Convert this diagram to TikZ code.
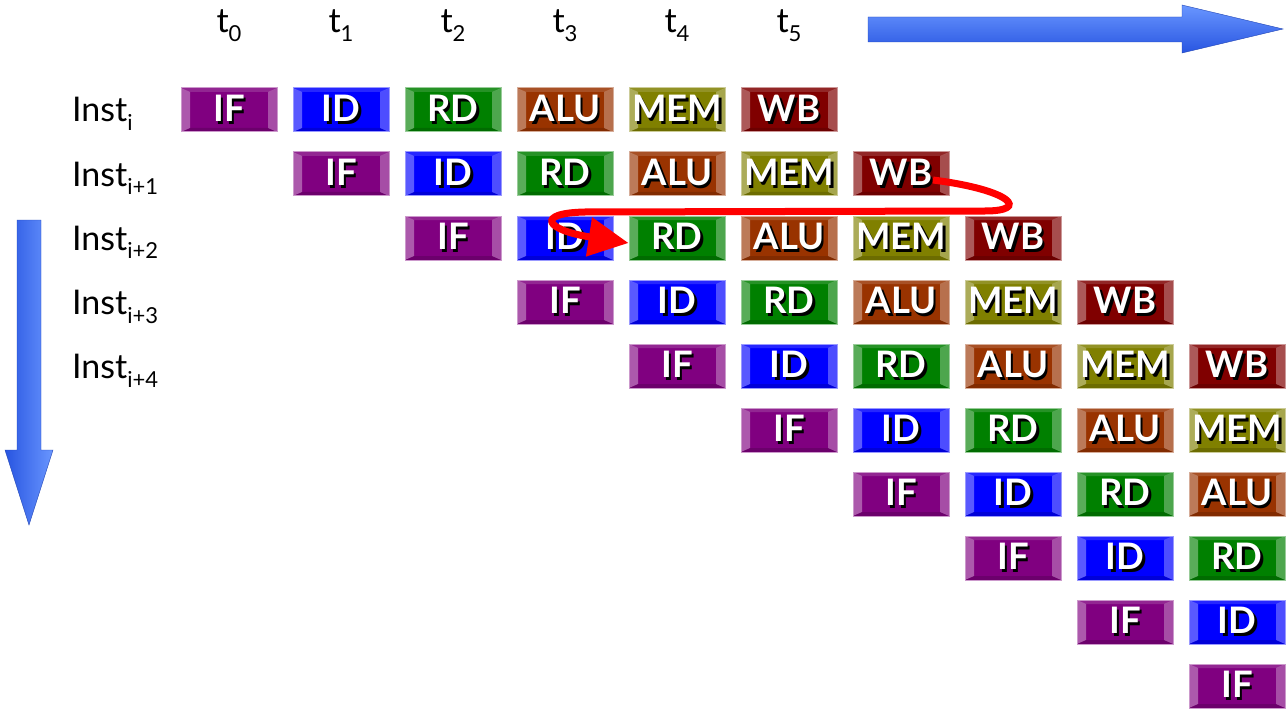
\documentclass[tikz,border=0pt]{standalone}
\usepackage{fontspec}
\setmainfont{Lato}
\usetikzlibrary{arrows.meta}
\definecolor{cIF}{RGB}{128,0,128}
\definecolor{cID}{RGB}{0,0,255}
\definecolor{cRD}{RGB}{0,128,0}
\definecolor{cALU}{RGB}{153,51,0}
\definecolor{cMEM}{RGB}{128,128,0}
\definecolor{cWB}{RGB}{128,0,0}
\definecolor{arrowlight}{RGB}{105,150,255}
\definecolor{arrowdark}{RGB}{40,85,225}
\newcommand\shtext[1]{\rlap{\kern2.5pt\raisebox{-2.5pt}{\color{black}#1}}#1}
\newcommand\lsub[1]{\raisebox{-9pt}{\fontsize{22}{22}\selectfont #1}}
\begin{document}
\begin{tikzpicture}[x=1pt,y=-1pt,
  stage/.style={draw=#1!40!white, line width=1pt, fill=#1,
    minimum width=96pt, minimum height=44pt, inner sep=0pt, text=white,
    font=\fontsize{36.5}{36.5}\selectfont\bfseries,
    path picture={
      \fill[white,opacity=.35] (path picture bounding box.north west) -- (path picture bounding box.south west)
        -- ([xshift=9pt,yshift=4pt]path picture bounding box.south west) -- ([xshift=9pt,yshift=-4pt]path picture bounding box.north west) -- cycle;
      \fill[white,opacity=.30] (path picture bounding box.north east) -- (path picture bounding box.south east)
        -- ([xshift=-9pt,yshift=4pt]path picture bounding box.south east) -- ([xshift=-9pt,yshift=-4pt]path picture bounding box.north east) -- cycle;
      \fill[white,opacity=.15] (path picture bounding box.north west) -- (path picture bounding box.north east)
        -- ([xshift=-9pt,yshift=-4pt]path picture bounding box.north east) -- ([xshift=9pt,yshift=-4pt]path picture bounding box.north west) -- cycle;
      \fill[black,opacity=.15] (path picture bounding box.south west) -- (path picture bounding box.south east)
        -- ([xshift=-9pt,yshift=4pt]path picture bounding box.south east) -- ([xshift=9pt,yshift=4pt]path picture bounding box.south west) -- cycle;
    }},
  lbl/.style={font=\fontsize{34}{34}\selectfont, inner sep=0pt},
  bluearrow/.style={draw=arrowdark!80!black, line width=0.4pt}]
\useasboundingbox (0,0) rectangle (1287,714);
% time labels
\foreach \k in {0,...,5}{
  \node[lbl, anchor=base] (t\k) at ({229+112*\k},33) {t\lsub{\k}};
}
% instruction labels
\node[lbl, anchor=base west] (i0) at (72,122) {Inst\lsub{i}};
\node[lbl, anchor=base west] (i1) at (72,186) {Inst\lsub{i+1}};
\node[lbl, anchor=base west] (i2) at (72,250) {Inst\lsub{i+2}};
\node[lbl, anchor=base west] (i3) at (72,314) {Inst\lsub{i+3}};
\node[lbl, anchor=base west] (i4) at (72,378) {Inst\lsub{i+4}};
% pipeline stages
\foreach \r in {0,...,9}{
  \foreach \s/\n/\c in {0/IF/cIF,1/ID/cID,2/RD/cRD,3/ALU/cALU,4/MEM/cMEM,5/WB/cWB}{
    \pgfmathtruncatemacro\col{\r+\s}
    \ifnum\col<10
      \node[stage=\c] (s-\r-\s) at ({229+112*\col},{110+64*\r}) {\shtext{\n}};
    \fi
  }
}
% time arrow
\shade[bluearrow, top color=arrowlight, bottom color=arrowdark]
  (868,17) -- (1182,17) -- (1182,5) -- (1283,29) -- (1182,53) -- (1182,42) -- (868,42) -- cycle;
% instruction arrow
\shade[bluearrow, left color=arrowdark, right color=arrowlight]
  (17,220) -- (41,220) -- (41,450) -- (53,450) -- (29,525) -- (5,450) -- (17,450) -- cycle;
% forwarding arrow
\draw[red, line width=7pt, -{Triangle[length=40pt,width=38pt]}]
  ([xshift=32pt,yshift=-6pt]s-1-5.center) .. controls (1012,190) and (1030,211) .. (985,211)
  -- (585,212) .. controls (535,213) and (545,230) .. ([yshift=-5pt]s-2-2.west);
\end{tikzpicture}
\end{document}
